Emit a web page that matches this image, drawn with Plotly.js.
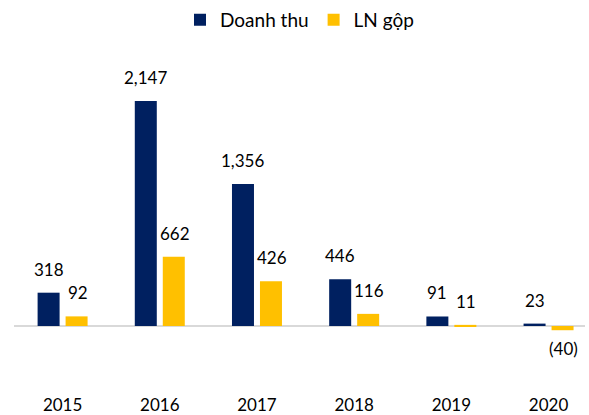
<!DOCTYPE html>
<html lang="vi">
<head>
  <meta charset="UTF-8" />
  <title>Doanh thu va LN gop</title>
  <script src="https://cdn.jsdelivr.net/npm/plotly.js-dist@3.0.1/plotly.min.js"></script>
  <style>
    body { margin: 0; background: #fff; }
    #chart { width: 589px; height: 415px; }
  </style>
</head>
<body>
  <div id="chart"></div>
<script>
  const years = ["2015", "2016", "2017", "2018", "2019", "2020"];
  const doanhThu = [318, 2147, 1356, 446, 91, 23];
  const lnGop = [92, 662, 426, 116, 11, -40];

  // number format like the source: 2,147 and (40) for negatives
  function fmt(v) {
    const s = Math.abs(v).toLocaleString("en-US");
    return v < 0 ? "(" + s + ")" : s;
  }

  const labelFont = { family: "Lato, 'Open Sans', sans-serif", size: 17, color: "#000" };

  const traces = [
    {
      type: "bar",
      name: "Doanh thu",
      x: years,
      y: doanhThu,
      marker: { color: "#002060" },
      hoverinfo: "x+y"
    },
    {
      type: "bar",
      name: "LN gộp",
      x: years,
      y: lnGop,
      marker: { color: "#FFC000" },
      hoverinfo: "x+y"
    }
  ];

  // value labels, placed a bit away from the bar ends
  // (x given as category index, since "2015" would be read as a number)
  function labels(values, dx) {
    return values.map((v, i) => ({
      x: i,
      y: v,
      xref: "x",
      yref: "y",
      text: fmt(v),
      showarrow: false,
      xshift: dx,
      yanchor: v < 0 ? "top" : "bottom",
      yshift: v < 0 ? -6 : 11,
      font: labelFont
    }));
  }

  const layout = {
    width: 589,
    height: 415,
    margin: { l: 14, r: 4, t: 40, b: 35 },
    paper_bgcolor: "#fff",
    plot_bgcolor: "#fff",
    font: labelFont,
    barmode: "group",
    bargap: 0.424,
    bargroupgap: 0.214,
    showlegend: true,
    legend: {
      orientation: "h",
      x: 0.5, xanchor: "center",
      y: 0.998, yanchor: "top",
      yref: "container",
      font: { family: labelFont.family, size: 19, color: "#000" },
      itemwidth: 30
    },
    annotations: labels(doanhThu, -14).concat(labels(lnGop, 15)),
    xaxis: {
      type: "category",
      range: [-0.5, 5.375],
      showgrid: false,
      showline: false,
      ticks: "",
      tickfont: labelFont,
      ticklabelstandoff: 13
    },
    yaxis: {
      range: [-515, 2729],
      showgrid: false,
      showticklabels: false,
      zeroline: true,
      zerolinecolor: "#d9d9d9",
      zerolinewidth: 1.5
    }
  };

  Plotly.newPlot("chart", traces, layout, { displayModeBar: false });
</script>
</body>
</html>
